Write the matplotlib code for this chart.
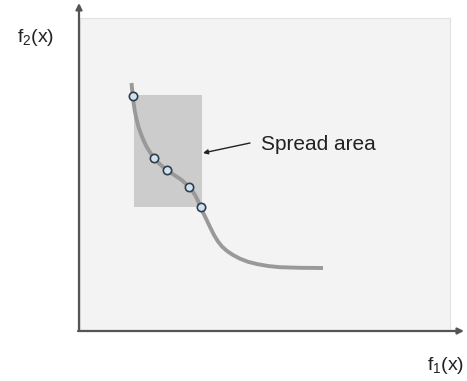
import matplotlib.pyplot as plt
from matplotlib import patches

plt.rcParams['font.family'] = ['Liberation Sans', 'DejaVu Sans']
plt.rcParams['mathtext.fontset'] = 'custom'
plt.rcParams['mathtext.rm'] = 'Liberation Sans'
plt.rcParams['mathtext.it'] = 'Liberation Sans'

# pareto front curve (canvas pixel coords, y down)
curve_x = [131.5, 132.7, 133.6, 134.8, 136.5, 138.5, 141, 143.8, 147, 150.5, 154,
           158, 162.5, 167.3, 172, 176.7, 181, 185, 188.7, 192, 195, 197.8, 200.3,
           203.5, 206.7, 210.5, 214, 218, 222, 227, 233, 240, 248, 256.7, 268,
           280, 300, 323]
curve_y = [83, 95.7, 103, 111, 119, 127, 134, 141, 147.5, 153, 158,
           162.5, 166.5, 170, 173.5, 176.7, 179.5, 183, 187, 190.5, 195, 200.5, 206.7,
           213.5, 220, 228, 235, 241.5, 246.5, 251, 255, 258.7, 261.8, 264, 266,
           267.2, 267.8, 268]

# solutions on the front
sol_x = [133, 154, 167, 189, 200.5]
sol_y = [96, 158, 170, 187, 207]

# spread area box: left, top, right, bottom
spread = (134, 95, 202, 207)

fig = plt.figure(figsize=(4.67, 3.81), dpi=100)
ax = fig.add_axes([0, 0, 1, 1])
ax.set_xlim(0, 467)
ax.set_ylim(381, 0)
ax.axis('off')

# light background panel
ax.add_patch(patches.Rectangle((80, 18), 370, 313, facecolor='#f3f3f3',
                               edgecolor='#e2e2e2', lw=0.8, zorder=0))

# spread area
l, t, r, b = spread
ax.add_patch(patches.Rectangle((l, t), r - l, b - t, facecolor='#cccccc',
                               edgecolor='none', zorder=1))

ax.plot(curve_x, curve_y, color='#999999', lw=2.8, solid_capstyle='butt',
        solid_joinstyle='round', zorder=2)
ax.scatter(sol_x, sol_y, s=36, facecolor='#cfe2f3', edgecolor='#333d47',
           linewidths=1.2, zorder=3)

# axes arrows
ax.annotate('', xy=(79, 3), xytext=(79, 331),
            arrowprops=dict(arrowstyle='-|>', color='#555555', lw=1.6,
                            mutation_scale=9, shrinkA=0, shrinkB=0))
ax.annotate('', xy=(464, 331), xytext=(78, 331),
            arrowprops=dict(arrowstyle='-|>', color='#555555', lw=1.6,
                            mutation_scale=9, shrinkA=0, shrinkB=0))

# label arrow
ax.annotate('', xy=(203, 153), xytext=(250, 143),
            arrowprops=dict(arrowstyle='-|>', color='#222222', lw=1.0,
                            mutation_scale=7, shrinkA=0, shrinkB=0))
ax.text(261, 144, 'Spread area', fontsize=15, color='#222222',
        ha='left', va='center')

ax.text(17, 38, r'f$_\mathrm{2}$(x)', fontsize=14, color='#222222',
        ha='left', va='center')
ax.text(427, 366, r'f$_\mathrm{1}$(x)', fontsize=14, color='#222222',
        ha='left', va='center')

fig.savefig('out.png', dpi=100)
